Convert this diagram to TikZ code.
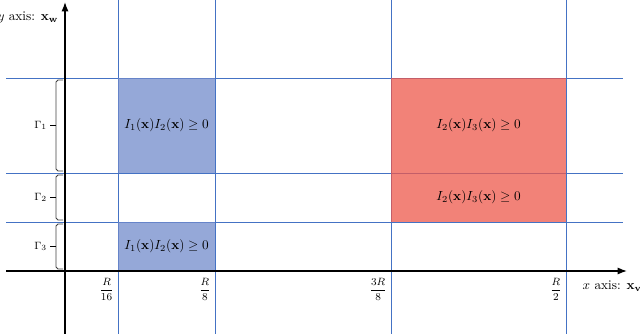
\documentclass[tikz,border=0pt]{standalone}
\usepackage{amsmath}
\usepackage{tikz}
\usetikzlibrary{arrows.meta,positioning,calc}

\definecolor{gridblue}{RGB}{68,114,196}
\definecolor{regblue}{RGB}{114,139,203}
\definecolor{regred}{RGB}{238,88,75}

\begin{document}
\begin{tikzpicture}[
  x=0.757pt, y=0.757pt,
  grid/.style={gridblue, line width=0.7pt},
  axis/.style={-Latex, line width=0.9pt},
  bluereg/.style={fill=regblue, fill opacity=0.75},
  redreg/.style={fill=regred, fill opacity=0.75},
  brc/.style={rounded corners=1.5pt, line width=0.6pt, black!75},
  gam/.style={left, inner sep=2pt, font=\footnotesize},
  tick/.style={anchor=north east, inner sep=3pt, yshift=-2pt, font=\footnotesize},
  note/.style={align=center}
]
\useasboundingbox (0,0) rectangle (640,334);

% grid lines
\foreach \x in {118,215,391,566}
  \draw[grid] (\x,0) -- (\x,334);
\foreach \y in {256,161,112}
  \draw[grid] (6,\y) -- (623,\y);

% regions
\fill[bluereg] (118,161) rectangle (215,256);
\fill[bluereg] (118,63) rectangle (215,112);
\fill[redreg] (391,112) rectangle (566,256);

\node[note] (b1) at (166.5,208.5) {$I_1(\mathbf{x})I_2(\mathbf{x}) \geq 0$};
\node[note] (b3) at (166.5,87.5) {$I_1(\mathbf{x})I_2(\mathbf{x}) \geq 0$};
\node[note] (r1) at (478.5,208.5) {$I_2(\mathbf{x})I_3(\mathbf{x}) \geq 0$};
\node[note] (r2) at (478.5,136.5) {$I_2(\mathbf{x})I_3(\mathbf{x}) \geq 0$};

% axes
\coordinate (O) at (65,63);
\coordinate (xstart) at (6,63);
\coordinate (xend) at (627,63);
\coordinate (ystart) at (65,0);
\coordinate (yend) at (65,332);
\draw[axis] (xstart) -- (xend);
\draw[axis] (ystart) -- (yend);
\node[anchor=north west] (xlab) at (578,58) {$x$ axis: $\mathbf{x_v}$};
\node[anchor=east] (ylab) at (63,317) {$y$ axis: $\mathbf{x_w}$};

% ticks
\node[tick] (t1) at (118,63) {$\dfrac{R}{16}$};
\node[tick] (t2) at (215,63) {$\dfrac{R}{8}$};
\node[tick] (t3) at (391,63) {$\dfrac{3R}{8}$};
\node[tick] (t4) at (566,63) {$\dfrac{R}{2}$};

% brackets
\foreach \top/\bot/\i in {254/163/1, 159/114/2, 110/65/3} {
  \draw[brc] (63,\top) -- (56,\top) -- (56,\bot) -- (63,\bot);
  \draw[brc, black] (56,{(\top+\bot)/2}) -- (50,{(\top+\bot)/2})
    node[gam] (g\i) {$\Gamma_\i$};
}

\end{tikzpicture}
\end{document}
